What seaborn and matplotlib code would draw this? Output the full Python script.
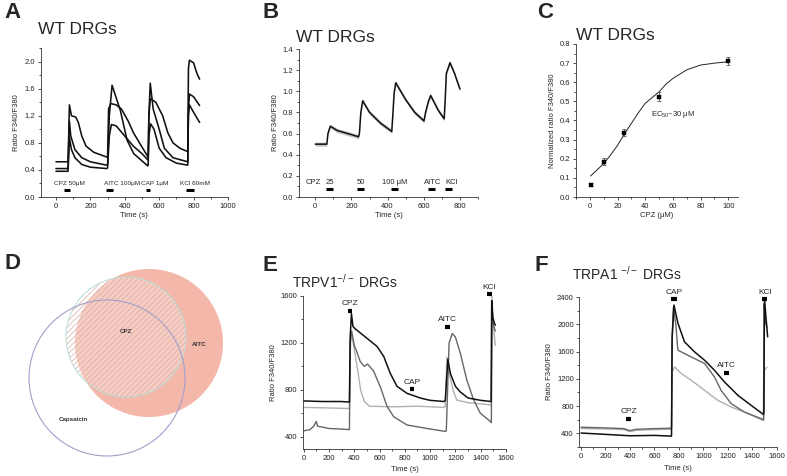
import numpy as np
import matplotlib
matplotlib.use("Agg")
import matplotlib.pyplot as plt
import seaborn as sns
from matplotlib.patches import Circle
from matplotlib.ticker import MultipleLocator, FormatStrFormatter

# ---- panel A: WT DRGs, three cells (time in s, ratio F340/F380)
a_t1 = [0, 70, 74, 78, 90, 115, 130, 150, 175, 220, 295, 300, 306, 318, 350, 380, 420, 450, 490, 533, 536, 540, 548, 580, 620, 650, 680, 720, 766, 770, 776, 800, 820, 835]
a_v1 = [0.52, 0.52, 0.9, 1.36, 1.2, 1.18, 1.1, 0.9, 0.75, 0.66, 0.59, 0.6, 1.3, 1.38, 1.36, 1.3, 1.12, 0.95, 0.78, 0.6, 0.62, 1.2, 1.45, 1.4, 1.2, 0.95, 0.8, 0.72, 0.67, 1.9, 2.02, 1.98, 1.82, 1.74]
a_t2 = [0, 70, 74, 78, 86, 110, 150, 200, 295, 300, 310, 326, 374, 413, 452, 533, 536, 540, 548, 565, 600, 630, 680, 766, 770, 776, 800, 835]
a_v2 = [0.42, 0.42, 0.8, 1.12, 0.9, 0.7, 0.58, 0.52, 0.47, 0.48, 1.2, 1.65, 1.28, 0.84, 0.64, 0.46, 0.47, 1.2, 1.68, 1.3, 1.0, 0.72, 0.58, 0.52, 1.3, 1.52, 1.48, 1.35]
a_t3 = [0, 70, 74, 78, 90, 110, 150, 200, 295, 300, 310, 322, 350, 400, 450, 500, 533, 536, 540, 550, 570, 600, 640, 700, 766, 770, 776, 800, 835]
a_v3 = [0.38, 0.38, 0.6, 0.88, 0.7, 0.58, 0.48, 0.44, 0.42, 0.43, 0.9, 1.07, 1.05, 0.9, 0.75, 0.64, 0.55, 0.56, 0.9, 1.08, 1.0, 0.72, 0.58, 0.5, 0.47, 1.2, 1.36, 1.25, 1.1]
a_bar_t0 = [48, 293, 525, 754]
a_bar_t1 = [83, 331, 548, 800]
a_bar_lab = ["CPZ 50\u03bcM", "AITC 100\u03bcM", "CAP 1\u03bcM", "KCl 60mM"]
a_lab_x = [-14, 280, 494, 719]

# ---- panel B: WT DRGs, CPZ dose series (mean trace)
b_t = [0, 40, 64, 70, 83, 120, 180, 239, 244, 252, 262, 300, 360, 423, 428, 436, 445, 500, 550, 601, 610, 625, 638, 680, 713, 718, 725, 745, 770, 800]
b_v = [0.5, 0.5, 0.5, 0.6, 0.67, 0.63, 0.6, 0.57, 0.6, 0.8, 0.91, 0.8, 0.7, 0.62, 0.75, 0.98, 1.08, 0.92, 0.8, 0.72, 0.8, 0.9, 0.96, 0.82, 0.74, 0.9, 1.17, 1.27, 1.17, 1.02]
b_sem = 0.02
b_bar_t0 = [61, 233, 419, 625, 720]
b_bar_t1 = [97, 270, 456, 662, 757]
b_lab = ["CPZ", "25", "50", "100 \u03bcM", "AITC", "KCl"]
b_lab_x = [-55, 58, 230, 371, 601, 720]

# ---- panel C: dose response
c_dose = [1, 10, 25, 50, 100]
c_resp = [0.065, 0.185, 0.335, 0.525, 0.71]
c_err = [0.006, 0.02, 0.018, 0.025, 0.02]
c_fit_x = [0.5, 5, 10, 15, 20, 25, 30, 35, 40, 45, 50, 55, 60, 70, 80, 90, 100]
c_fit_y = [0.11, 0.14, 0.175, 0.22, 0.27, 0.33, 0.385, 0.44, 0.49, 0.52, 0.55, 0.59, 0.62, 0.665, 0.69, 0.70, 0.707]

# ---- panel D: Venn (centre x, centre y, radius in panel units)
venn_sets = ["AITC", "CPZ", "Capsaicin"]
venn_cx = [149, 126, 107]
venn_cy = [343, 337, 378]
venn_r = [74, 60, 78]

# ---- panel E: TRPV1-/- DRGs
e_t_k = [0, 150, 300, 362, 368, 378, 390, 408, 500, 580, 633, 685, 738, 817, 922, 1000, 1110, 1120, 1140, 1160, 1200, 1240, 1300, 1400, 1482, 1487, 1495, 1505, 1515]
e_v_k = [705, 700, 700, 695, 1250, 1450, 1340, 1320, 1240, 1170, 1085, 940, 830, 770, 730, 710, 700, 710, 1060, 940, 830, 780, 730, 710, 700, 1560, 1420, 1380, 1350]
e_t_d = [0, 50, 80, 100, 110, 200, 300, 362, 368, 380, 400, 422, 448, 480, 505, 553, 606, 659, 712, 817, 975, 1120, 1128, 1150, 1175, 1200, 1239, 1291, 1344, 1397, 1476, 1484, 1490, 1500, 1515]
e_v_d = [450, 460, 490, 530, 490, 470, 465, 460, 1200, 1300, 1180, 1120, 1040, 1000, 1020, 960, 826, 660, 570, 500, 470, 445, 450, 1200, 1280, 1250, 1110, 880, 715, 600, 530, 520, 1500, 1360, 1300]
e_t_l = [0, 200, 362, 368, 375, 400, 430, 450, 480, 520, 700, 900, 1110, 1120, 1133, 1150, 1180, 1211, 1300, 1400, 1484, 1489, 1500, 1515]
e_v_l = [650, 645, 640, 1100, 1300, 1150, 950, 800, 700, 660, 655, 660, 650, 660, 1080, 950, 800, 712, 690, 680, 670, 1600, 1350, 1180]
e_bar_lab = ["CPZ", "CAP", "AITC", "KCl"]
e_bar_t0 = [348, 838, 1120, 1450]
e_bar_t1 = [385, 875, 1155, 1490]
e_bar_y = [1475, 807, 1338, 1617]

# ---- panel F: TRPA1-/- DRGs
f_t_k = [0, 200, 400, 600, 740, 745, 760, 792, 846, 928, 1010, 1091, 1173, 1282, 1390, 1490, 1495, 1500, 1512, 1526]
f_v_k = [405, 385, 365, 370, 360, 1800, 2282, 2018, 1743, 1595, 1473, 1326, 1154, 959, 812, 680, 690, 2380, 2110, 1816]
f_t_d = [0, 200, 350, 400, 450, 600, 740, 745, 755, 775, 792, 900, 1010, 1091, 1145, 1227, 1336, 1472, 1492, 1497, 1505, 1520]
f_v_d = [490, 480, 470, 440, 460, 470, 475, 1800, 2250, 2000, 1620, 1522, 1425, 1228, 1032, 837, 713, 616, 600, 2300, 2050, 1950]
f_t_l = [0, 200, 350, 400, 450, 600, 740, 745, 765, 819, 900, 1010, 1118, 1227, 1336, 1486, 1495, 1500, 1520]
f_v_l = [470, 465, 455, 425, 445, 455, 460, 1300, 1375, 1278, 1180, 1032, 885, 787, 713, 591, 590, 1330, 1370]
f_bar_lab = ["CPZ", "CAP", "AITC", "KCl"]
f_bar_t0 = [370, 736, 1172, 1483]
f_bar_t1 = [411, 782, 1213, 1524]
f_bar_y = [616, 2366, 1287, 2366]

sns.set_theme(style="ticks")
plt.rcParams["font.family"] = ["Liberation Sans", "DejaVu Sans"]
plt.rcParams["mathtext.default"] = "regular"
plt.rcParams["axes.linewidth"] = 0.6
plt.rcParams["hatch.linewidth"] = 0.5

W, H = 787, 476
fig = plt.figure(figsize=(W / 100, H / 100), dpi=100)
AX_COL = "#333333"


def box(l, r, t, b):
    return fig.add_axes([l / W, 1 - b / H, (r - l) / W, (b - t) / H])


def style_ax(ax, xmaj, xmin, ymaj, ymin, yfmt=None):
    ax.xaxis.set_major_locator(MultipleLocator(xmaj))
    ax.xaxis.set_minor_locator(MultipleLocator(xmin))
    ax.yaxis.set_major_locator(MultipleLocator(ymaj))
    ax.yaxis.set_minor_locator(MultipleLocator(ymin))
    if yfmt:
        ax.yaxis.set_major_formatter(FormatStrFormatter(yfmt))
    ax.tick_params(which="both", direction="out", width=0.6, colors=AX_COL,
                   labelsize=5.5, labelcolor="#222222", pad=1.5)
    ax.tick_params(which="major", length=2.5)
    ax.tick_params(which="minor", length=1.5)
    for s in ax.spines.values():
        s.set_color(AX_COL)
    sns.despine(ax=ax)


def trace(ax, t, v, color, lw=1.0):
    sns.lineplot(x=t, y=v, ax=ax, color=color, lw=lw, estimator=None, sort=False)


def stim_bars(ax, t0, t1, y, lw=2.2):
    for a, b, yy in zip(t0, t1, y):
        ax.plot([a, b], [yy, yy], color="black", lw=lw, solid_capstyle="butt", clip_on=False)


def letter(x, y, s):
    fig.text(x / W, 1 - y / H, s, fontsize=16, fontweight="bold", va="top", ha="left")


# ---------------- A
axA = box(40.5, 228, 48, 197)
for t, v in [(a_t1, a_v1), (a_t2, a_v2), (a_t3, a_v3)]:
    trace(axA, t, v, "#111111", 1.15)
stim_bars(axA, a_bar_t0, a_bar_t1, [0.11] * 4)
for lab, x in zip(a_bar_lab, a_lab_x):
    axA.text(x, 0.16, lab, fontsize=4.6, ha="left", va="bottom")
axA.set_xlim(-90, 1000)
axA.set_ylim(0, 2.2)
style_ax(axA, 200, 100, 0.4, 0.2, "%.1f")
axA.set_xlabel("Time (s)", fontsize=5.5, labelpad=1.5)
axA.set_ylabel("Ratio F340/F380", fontsize=5.5, labelpad=3)
fig.text(38 / W, 1 - 30 / H, "WT DRGs", fontsize=12.5, va="center", ha="left")
letter(4, 2, "A")

# ---------------- B
axB = box(299, 478, 49, 197)
b_lo = [v - b_sem for v in b_v]
b_hi = [v + b_sem for v in b_v]
axB.fill_between(b_t, b_lo, b_hi, color="#c4c4c4", lw=0)
trace(axB, b_t, b_v, "#111111", 1.1)
stim_bars(axB, b_bar_t0, b_bar_t1, [0.073] * 5)
for lab, x in zip(b_lab, b_lab_x):
    axB.text(x, 0.105, lab, fontsize=5.5, ha="left", va="bottom")
axB.set_xlim(-90, 900)
axB.set_ylim(0, 1.4)
style_ax(axB, 200, 100, 0.2, 0.1, "%.1f")
axB.set_xlabel("Time (s)", fontsize=5.5, labelpad=1.5)
axB.set_ylabel("Ratio F340/F380", fontsize=5.5, labelpad=3)
fig.text(296 / W, 1 - 37 / H, "WT DRGs", fontsize=12.5, va="center", ha="left")
letter(263, 2, "B")

# ---------------- C
axC = box(576, 738, 44, 197)
sns.lineplot(x=c_fit_x, y=c_fit_y, ax=axC, color="#222222", lw=0.7, estimator=None, sort=False)
axC.errorbar(c_dose, c_resp, yerr=c_err, fmt="none", ecolor="#555555", elinewidth=0.6, capsize=1.5, capthick=0.6)
sns.scatterplot(x=c_dose, y=c_resp, ax=axC, marker="s", s=9, color="black", edgecolor="black", linewidth=0.3, zorder=5)
axC.text(44, 0.43, "EC$_{50}$~30 \u03bcM", fontsize=5.5, ha="left", va="center")
axC.set_xlim(-10, 107)
axC.set_ylim(0, 0.8)
style_ax(axC, 20, 10, 0.1, 0.05, "%.1f")
axC.set_xlabel("CPZ (\u03bcM)", fontsize=5.5, labelpad=1.5)
axC.set_ylabel("Normalized ratio F340/F380", fontsize=5.5, labelpad=3)
fig.text(576 / W, 1 - 36 / H, "WT DRGs", fontsize=12.5, va="center", ha="left")
letter(537, 2, "C")

# ---------------- D (Venn)
axD = box(0, 260, 230, 476)
axD.set_xlim(0, 260)
axD.set_ylim(476, 230)
axD.axis("off")
ai, cp, ca = 0, 1, 2
axD.add_patch(Circle((venn_cx[ai], venn_cy[ai]), venn_r[ai], facecolor="#f4b8aa", edgecolor="none"))
axD.add_patch(Circle((venn_cx[cp], venn_cy[cp]), venn_r[cp], facecolor="white", alpha=0.3, edgecolor="none"))
axD.add_patch(Circle((venn_cx[cp], venn_cy[cp]), venn_r[cp], facecolor="none", hatch="//////",
                     edgecolor="#d7aca2", lw=0))
axD.add_patch(Circle((venn_cx[cp], venn_cy[cp]), venn_r[cp], facecolor="none", edgecolor="#b9ddd6", lw=0.7))
axD.add_patch(Circle((venn_cx[ca], venn_cy[ca]), venn_r[ca], facecolor="none", edgecolor="#a29fc8", lw=0.8))
axD.text(126, 332, "CPZ", fontsize=4.5, fontweight="bold", ha="center", va="center", color="#333333")
axD.text(199, 345, "AITC", fontsize=4.5, fontweight="bold", ha="center", va="center", color="#333333")
axD.text(73, 420, "Capsaicin", fontsize=4.5, fontweight="bold", ha="center", va="center", color="#333333")
letter(4, 253, "D")

# ---------------- E
axE = box(303, 506, 296, 449)
trace(axE, e_t_l, e_v_l, "#b0b0b0", 1.0)
trace(axE, e_t_d, e_v_d, "#666666", 1.0)
trace(axE, e_t_k, e_v_k, "#111111", 1.1)
stim_bars(axE, e_bar_t0, e_bar_t1, e_bar_y, lw=3)
for lab, a, b, y in zip(e_bar_lab, e_bar_t0, e_bar_t1, e_bar_y):
    axE.annotate(lab, ((a + b) / 2, y), xytext=(0, 2.5), textcoords="offset points",
                 fontsize=6, ha="center", va="bottom", annotation_clip=False)
axE.set_xlim(-5, 1600)
axE.set_ylim(295, 1600)
style_ax(axE, 200, 100, 400, 200)
axE.set_xlabel("Time (s)", fontsize=5.5, labelpad=3)
axE.set_ylabel("Ratio F340/F380", fontsize=5.5, labelpad=3)
fig.text(292 / W, 1 - 282 / H, "TRPV1$^{-/-}$ DRGs", fontsize=10, va="center", ha="left")
letter(262, 255, "E")

# ---------------- F
axF = box(579.3, 776.7, 297, 447)
trace(axF, f_t_l, f_v_l, "#b0b0b0", 1.0)
trace(axF, f_t_d, f_v_d, "#666666", 1.0)
trace(axF, f_t_k, f_v_k, "#111111", 1.1)
stim_bars(axF, f_bar_t0, f_bar_t1, f_bar_y, lw=3)
for lab, a, b, y in zip(f_bar_lab, f_bar_t0, f_bar_t1, f_bar_y):
    axF.annotate(lab, ((a + b) / 2, y), xytext=(0, 2.5), textcoords="offset points",
                 fontsize=6, ha="center", va="bottom", annotation_clip=False)
axF.set_xlim(-14, 1600)
axF.set_ylim(200, 2400)
style_ax(axF, 200, 100, 400, 200)
axF.set_xlabel("Time (s)", fontsize=5.5, labelpad=4)
axF.set_ylabel("Ratio F340/F380", fontsize=5.5, labelpad=3)
fig.text(572 / W, 1 - 274 / H, "TRPA1 $^{-/-}$ DRGs", fontsize=10, va="center", ha="left")
letter(535, 255, "F")

fig.savefig("out.png", dpi=100)
